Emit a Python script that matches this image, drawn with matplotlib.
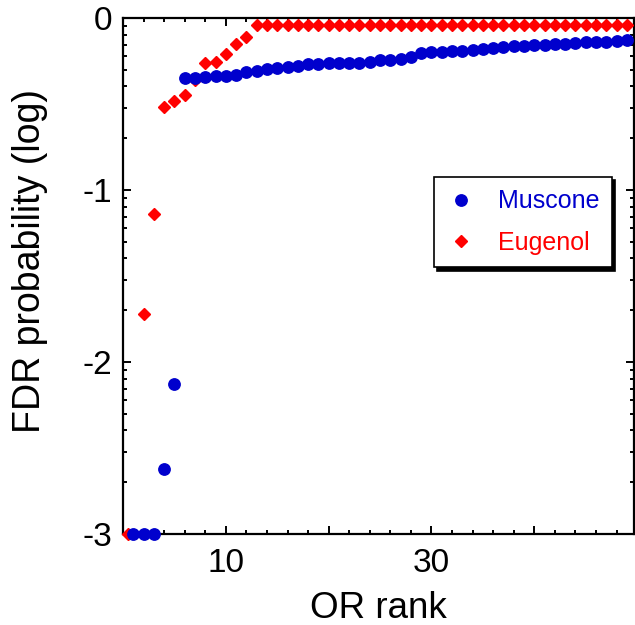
import matplotlib
matplotlib.use("Agg")
import matplotlib.pyplot as plt
import numpy as np

# ---- data (log10 FDR probability by OR rank) ----
muscone_rank = list(range(1, 50))
muscone_val = [-3.0, -3.0, -3.0, -2.62, -2.13, -0.35, -0.35,
               -0.345, -0.340, -0.336, -0.332, -0.316, -0.307, -0.297, -0.291,
               -0.287, -0.278, -0.270, -0.268, -0.264, -0.262, -0.262, -0.262,
               -0.258, -0.245, -0.243, -0.239, -0.225, -0.206, -0.200, -0.196,
               -0.194, -0.190, -0.184, -0.180, -0.175, -0.167, -0.165, -0.161,
               -0.157, -0.155, -0.151, -0.151, -0.145, -0.142, -0.138, -0.138,
               -0.132, -0.130]

eugenol_rank = [0.5] + list(range(2, 50))
eugenol_val = [-3.0, -1.72, -1.14, -0.52, -0.48, -0.45, -0.36, -0.26, -0.255,
               -0.21, -0.15, -0.11] + [-0.04] * 37

x_major = [10, 20, 30, 40]
x_labels = ["10", "", "30", ""]
y_major = [0, -1, -2, -3]
y_labels = ["0", "-1", "-2", "-3"]

plt.rcParams['font.family'] = ['Liberation Sans', 'DejaVu Sans']

fig = plt.figure(figsize=(6.35, 6.25), dpi=100)
ax = fig.add_axes([0.1937, 0.1456, 0.8047, 0.8256])

blue = '#0000cd'
red = '#ff0000'
ax.plot(eugenol_rank, eugenol_val, linestyle='none', marker='D', ms=5.8,
        color=red, mec=red, label='Eugenol', zorder=3, clip_on=False)
ax.plot(muscone_rank, muscone_val, linestyle='none', marker='o', ms=8.2,
        color=blue, mec=blue, label='Muscone', zorder=4, clip_on=False)

ax.set_xlim(0, 49.7)
ax.set_ylim(-3, 0)

ax.set_xticks(x_major)
ax.set_xticklabels(x_labels)
ax.set_xticks(np.arange(2, 50, 2), minor=True)
ax.set_yticks(y_major)
ax.set_yticklabels(y_labels)
yminor = []
for d in range(-3, 0):
    for k in range(2, 10):
        yminor.append(d + np.log10(k))
ax.set_yticks(yminor, minor=True)

ax.tick_params(which='both', direction='in', top=True, right=True,
               width=1.4, labelsize=24, colors='black')
ax.tick_params(which='major', length=5.5)
ax.tick_params(which='minor', length=3)
ax.tick_params(axis='y', pad=8)
ax.tick_params(axis='x', pad=10)
for s in ax.spines.values():
    s.set_linewidth(1.6)

ax.set_xlabel('OR rank', fontsize=26.5, labelpad=9)
ax.set_ylabel('FDR probability (log)', fontsize=27)
ax.yaxis.set_label_coords(-0.147, 0.53)

handles, labels = ax.get_legend_handles_labels()
order = [1, 0]
leg = ax.legend([handles[i] for i in order], [labels[i] for i in order],
                loc='upper left', bbox_to_anchor=(0.6086, 0.692),
                borderaxespad=0, fancybox=False, frameon=True,
                shadow={'color': 'black', 'alpha': 1, 'ox': 2.5, 'oy': -2.5},
                labelcolor='linecolor', fontsize=18, handlelength=1.2,
                handletextpad=0.85, borderpad=0.5, labelspacing=0.7,
                edgecolor='black', framealpha=1)
leg.get_frame().set_linewidth(1.2)

fig.savefig('out.png', dpi=100)
